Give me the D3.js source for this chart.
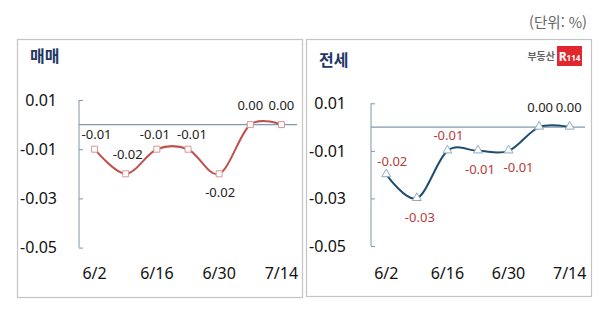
<!DOCTYPE html>
<html lang="ko">
<head>
<meta charset="utf-8">
<title>매매 / 전세 변동률</title>
<script src="https://d3js.org/d3.v7.min.js"></script>
<style>
  body { margin: 0; background: #fff; }
  svg { display: block; font-family: "Noto Sans", "Noto Sans CJK KR", sans-serif; }
  .num { font-family: "Noto Sans", sans-serif; }
  .kr { font-family: "Noto Sans CJK KR", sans-serif; }
</style>
</head>
<body>
<div id="chart"></div>
<script>
// weekly dates (x categories) and the ones shown as tick labels
var dates = ["6/2", "6/9", "6/16", "6/23", "6/30", "7/7", "7/14"];
var dateTicks = ["6/2", "6/16", "6/30", "7/14"];
var valueTicks = [0.01, -0.01, -0.03, -0.05];

// weekly change, %
var saleValues   = [-0.01, -0.02, -0.01, -0.01, -0.02, 0.00, 0.00];
var jeonseValues = [-0.02, -0.03, -0.01, -0.01, -0.01, 0.00, 0.00];

var svg = d3.select("#chart").append("svg")
    .attr("width", 600)
    .attr("height", 309);

// unit note
svg.append("text")
    .attr("class", "kr")
    .attr("x", 587).attr("y", 28)
    .attr("text-anchor", "end")
    .style("font-size", "14.5px")
    .style("fill", "#666")
    .text("(단위: %)");

var panels = [
  { title: "매매", values: saleValues, left: 17, right: 302, top: 39, bottom: 297,
    axisX: 79, plotRight: 297, yTop: 100, yBottom: 247.6, titleY: 62,
    line: "#c0504d", marker: "#d99694", shape: "square",
    // label offsets from each marker [dx, dy]
    offsets: [[2, -15], [2, -19], [-2, -15], [4, -15], [1, 19], [0, -19], [0, -19]],
    labelColor: function(v) { return "#222"; } },
  { title: "전세", values: jeonseValues, left: 306, right: 591, top: 39, bottom: 296,
    axisX: 371, plotRight: 585, yTop: 103.3, yBottom: 246, titleY: 66,
    line: "#1f4e6e", marker: "#8ea9bf", shape: "triangle",
    offsets: [[6, -13], [3, 19], [1, -15], [2, 19], [10, 17], [1, -20], [-1, -20]],
    labelColor: function(v) { return v < 0 ? "#b83c3c" : "#222"; } }
];

panels.forEach(function(p) {
  var g = svg.append("g");

  // panel frame
  g.append("rect")
      .attr("x", p.left + 0.5).attr("y", p.top + 0.5)
      .attr("width", p.right - p.left).attr("height", p.bottom - p.top)
      .style("fill", "none")
      .style("stroke", "#c4c4c4")
      .style("stroke-width", 1.2);

  // title
  g.append("text")
      .attr("class", "kr")
      .attr("x", p.left + 13).attr("y", p.titleY)
      .style("font-size", "16px")
      .style("font-weight", "bold")
      .style("fill", "#1f3864")
      .text(p.title);

  var x = d3.scalePoint()
      .domain(dates)
      .range([p.axisX, p.plotRight])
      .padding(0.5);

  var y = d3.scaleLinear()
      .domain([-0.05, 0.01])
      .range([p.yBottom, p.yTop]);

  // y axis: line plus short inward ticks
  var yAxis = g.append("g")
      .attr("transform", "translate(" + p.axisX + ",0)")
      .call(d3.axisRight(y).tickValues(valueTicks).tickSize(4).tickFormat(""));
  yAxis.select(".domain").attr("d", "M0," + y(0.01) + "V" + y(-0.05)).style("stroke", "#7f96a5");
  yAxis.selectAll(".tick line").style("stroke", "#7f96a5");

  // y tick labels
  g.selectAll(".ylab")
      .data(valueTicks)
      .enter().append("text")
      .attr("class", "num")
      .attr("x", p.left + 40)
      .attr("y", function(d) { return y(d) + 5.8; })
      .attr("text-anchor", "end")
      .style("font-size", "16px")
      .style("fill", "#111")
      .text(function(d) { return d3.format(".2f")(d).replace("−", "-"); });

  // zero line
  g.append("line")
      .attr("x1", p.axisX).attr("x2", p.plotRight)
      .attr("y1", y(0)).attr("y2", y(0))
      .style("stroke", "#8497b0")
      .style("stroke-width", 1.2);

  // x tick labels
  g.selectAll(".xlab")
      .data(dateTicks)
      .enter().append("text")
      .attr("class", "num")
      .attr("x", function(d) { return x(d); })
      .attr("y", 278.5)
      .attr("text-anchor", "middle")
      .style("font-size", "16px")
      .style("fill", "#111")
      .text(function(d) { return d; });

  // smoothed line
  var line = d3.line()
      .x(function(d, i) { return x(dates[i]); })
      .y(function(d) { return y(d); })
      .curve(d3.curveCardinal);

  g.append("path")
      .datum(p.values)
      .attr("d", line)
      .style("fill", "none")
      .style("stroke", p.line)
      .style("stroke-width", 2);

  // markers
  var sym = p.shape === "square" ? d3.symbolSquare : d3.symbolTriangle;
  g.selectAll(".mk")
      .data(p.values)
      .enter().append("path")
      .attr("d", d3.symbol().type(sym).size(p.shape === "square" ? 36 : 34))
      .attr("transform", function(d, i) {
        return "translate(" + x(dates[i]) + "," + (y(d) + (p.shape === "square" ? 0 : -0.5)) + ")";
      })
      .style("fill", "#fff")
      .style("stroke", p.marker)
      .style("stroke-width", 1);

  // data labels
  g.selectAll(".dl")
      .data(p.values)
      .enter().append("text")
      .attr("class", "num")
      .attr("x", function(d, i) { return x(dates[i]) + p.offsets[i][0]; })
      .attr("y", function(d, i) { return y(d) + p.offsets[i][1] + 4.6; })
      .attr("text-anchor", "middle")
      .style("font-size", "13px")
      .style("fill", function(d) { return p.labelColor(d); })
      .text(function(d) { return d3.format(".2f")(d).replace("−", "-"); });
});

// R114 logo in the right panel
var logo = svg.append("g");
logo.append("text")
    .attr("class", "kr")
    .attr("x", 555).attr("y", 60)
    .attr("text-anchor", "end")
    .style("font-size", "10px")
    .style("font-weight", "bold")
    .style("fill", "#666")
    .text("부동산");
logo.append("rect")
    .attr("x", 557).attr("y", 46)
    .attr("width", 25).attr("height", 20)
    .style("fill", "#e0282e");
var rt = logo.append("text")
    .attr("x", 569.5).attr("y", 61)
    .attr("text-anchor", "middle")
    .style("font-family", "'Noto Sans', sans-serif")
    .style("font-weight", "bold")
    .style("fill", "#fff");
rt.append("tspan").style("font-size", "12px").text("R");
rt.append("tspan").style("font-size", "8px").text("114");
</script>
</body>
</html>
